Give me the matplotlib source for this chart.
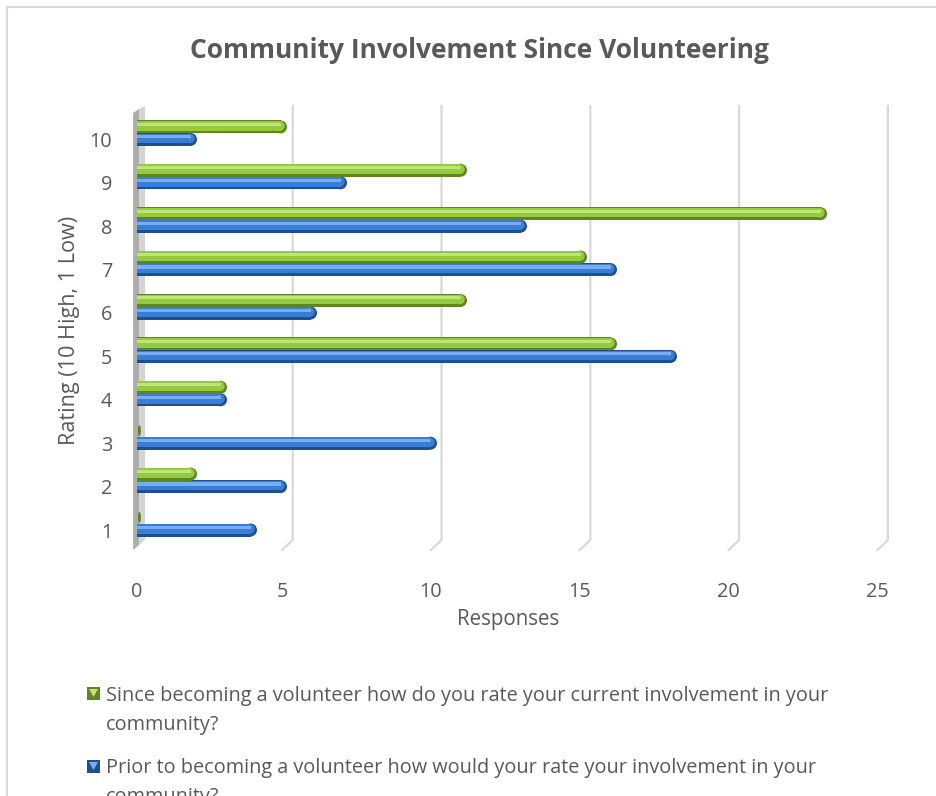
import matplotlib
matplotlib.use("Agg")
import matplotlib.pyplot as plt
from matplotlib.patches import Polygon, Rectangle, Ellipse
from matplotlib.lines import Line2D
import matplotlib.transforms as mtransforms

# ---------------- data ----------------
categories = ["1", "2", "3", "4", "5", "6", "7", "8", "9", "10"]
since_values = [0, 2, 0, 3, 16, 11, 15, 23, 11, 5]
prior_values = [4, 5, 10, 3, 18, 6, 16, 13, 7, 2]
x_ticks = [0, 5, 10, 15, 20, 25]
series_names = [
    "Since becoming a volunteer how do you rate your current involvement in your\ncommunity?",
    "Prior to becoming a volunteer how would your rate your involvement in your\ncommunity?",
]
title_text = "Community Involvement Since Volunteering"
x_label = "Responses"
y_label = "Rating (10 High, 1 Low)"

# ---------------- style ----------------
FONT = ["Open Sans", "DejaVu Sans"]
plt.rcParams["font.family"] = FONT
TXT = "#595959"
GREEN = dict(dark="#5F8423", main="#95CA3E", light="#BFE47C")
BLUE = dict(dark="#1E4F91", main="#3A7DD6", light="#78AEEE")

W, H = 936, 796
fig = plt.figure(figsize=(W / 100, H / 100), dpi=100)

# geometry in pixels
x0_px, px_per_x = 137.0, 30.0
c1_px, px_per_c = 530.0, 43.4
xmin, xmax = -0.3, 25.4
ytop_px, ybot_px = 100.0, 552.0


def cy(py):
    return 1 + (c1_px - py) / px_per_c


ymin, ymax = cy(ybot_px), cy(ytop_px)
ax_left = x0_px + xmin * px_per_x
ax_w = (xmax - xmin) * px_per_x
ax = fig.add_axes([ax_left / W, 1 - ybot_px / H, ax_w / W, (ybot_px - ytop_px) / H])
ax.set_xlim(xmin, xmax)
ax.set_ylim(ymin, ymax)
ax.set_facecolor("none")
for s in ax.spines.values():
    s.set_visible(False)
ax.set_xticks([])

cat_pos = list(range(1, len(categories) + 1))
ax.set_yticks(cat_pos)
ax.set_yticklabels(categories, fontsize=14.3, color=TXT)
ax.tick_params(axis="y", length=0, pad=11.5)

# back wall (left)
wall_l, wall_m, wall_r = -0.13, 0.07, 0.27
ax.add_patch(Polygon([(wall_l, cy(113)), (wall_m, cy(109)), (wall_m, cy(545)), (wall_l, cy(550))],
                     closed=True, facecolor="#ADADAD", edgecolor="none", zorder=1))
ax.add_patch(Polygon([(wall_m, cy(109)), (wall_r, cy(106)), (wall_r, cy(540)), (wall_m, cy(545))],
                     closed=True, facecolor="#D4D4D4", edgecolor="none", zorder=1))

# gridlines with perspective foot
label_x = []
for t in x_ticks:
    back = t + 0.2 * (1 - t / 25) + 0.03
    front = back - 0.35
    label_x.append(front)
    if t == 0:
        continue
    ax.plot([back, back, front], [cy(106), cy(540), cy(550)], color="#D9D9D9",
            lw=1.6, solid_joinstyle="miter", zorder=1, clip_on=False)

# x tick labels
trans = mtransforms.blended_transform_factory(ax.transData, fig.transFigure)
for t, lx in zip(x_ticks, label_x):
    ax.text(lx + (0.12 if t == 0 else 0), 1 - 592 / H, str(t), transform=trans, ha="center",
            va="center", fontsize=14.3, color=TXT)

# bars
BAR_H = 13 / px_per_c
CAP = 6.5 / px_per_x
cap_pt = 13 * 0.72


def draw_series(values, offset, col):
    ys = [c + offset for c in cat_pos]
    for y, v in zip(ys, values):
        if v <= 0:
            ax.add_patch(Ellipse((0.08, y), 0.1, BAR_H * 0.85, facecolor=col["dark"],
                                 edgecolor="none", zorder=4))
            continue
        L = v - CAP
        ax.barh(y, L, height=BAR_H, left=0, color=col["dark"], zorder=3)
        ax.scatter([L], [y], s=cap_pt ** 2, color=col["dark"], edgecolors="none", zorder=3)
        ax.barh(y + BAR_H * 0.08, L, height=BAR_H * 0.74, left=0, color=col["main"], zorder=4)
        ax.scatter([L - 0.02], [y + BAR_H * 0.08], s=(cap_pt * 0.74) ** 2, color=col["main"],
                   edgecolors="none", zorder=4)
        ax.barh(y + BAR_H * 0.2, L, height=BAR_H * 0.24, left=0, color=col["light"], zorder=5)
        ax.scatter([L - 0.05], [y + BAR_H * 0.2], s=(cap_pt * 0.26) ** 2, color=col["light"],
                   edgecolors="none", zorder=5)


draw_series(prior_values, 0.0, BLUE)
draw_series(since_values, 12.5 / px_per_c, GREEN)

# texts
fig.text(479 / W, 1 - 50 / H, title_text, ha="center", va="center", fontsize=19,
         fontweight="bold", color=TXT)
fig.text(508 / W, 1 - 620 / H, x_label, ha="center", va="center", fontsize=14.8, color=TXT)
fig.text(69 / W, 1 - 330 / H, y_label, ha="center", va="center", fontsize=15.6, color=TXT,
         rotation=90)

# legend (manual)
for name, col, ytop, base in zip(series_names, [GREEN, BLUE], [687, 760], [701, 773]):
    x_m, s_m = 87, 13
    fig.patches.append(Rectangle((x_m / W, 1 - (ytop + s_m) / H), s_m / W, s_m / H,
                                 transform=fig.transFigure, facecolor=col["dark"],
                                 edgecolor="none"))
    fig.patches.append(Polygon([((x_m + 2) / W, 1 - (ytop + 2) / H),
                                ((x_m + s_m - 2) / W, 1 - (ytop + 2) / H),
                                ((x_m + s_m / 2) / W, 1 - (ytop + s_m - 3) / H)],
                               closed=True, transform=fig.transFigure,
                               facecolor=col["light"], edgecolor="none"))
    for i, line in enumerate(name.split("\n")):
        fig.text(106 / W, 1 - (base + 29 * i) / H, line, ha="left", va="baseline",
                 fontsize=14.3, color=TXT)

# chart border
fig.add_artist(Line2D([7 / W, 1], [1 - 7 / H, 1 - 7 / H], transform=fig.transFigure,
                      color="#D9D9D9", lw=1.5))
fig.add_artist(Line2D([7 / W, 7 / W], [0, 1 - 7 / H], transform=fig.transFigure,
                      color="#D9D9D9", lw=1.5))

fig.savefig("out.png", dpi=100, facecolor="white")
